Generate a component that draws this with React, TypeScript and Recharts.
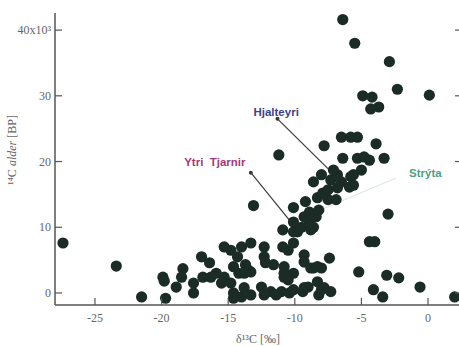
import { ScatterChart, Scatter, XAxis, YAxis, ReferenceLine, ReferenceDot } from 'recharts';

// δ13C (‰) and 14C age (x10³ BP) per sample
const delta13C = [
  -27.4, -23.4, -21.5, -19.7, -19.9, -19.8, -18.9, -18.4, -18.5, -17.6, -17.6, -17.0, -16.4, -16.9, -16.3,
  -15.9, -15.3, -15.3, -15.5, -14.8, -14.3, -14.0, -14.6, -14.2, -13.5, -14.8, -14.6, -14.0, -14.6, -13.3,
  -12.3, -10.9, -10.5, -10.1, -12.3, -12.2, -11.6, -10.8, -10.8, -10.1, -13.3, -13.7, -13.8, -10.8, -10.5,
  -13.8, -13.3, -12.5, -11.8, -11.0, -10.4, -10.1, -12.3, -11.4, -9.4, -9.0, -9.3, -8.3, -8.0, -7.8,
  -7.3, -8.2, -9.3, -9.3, -7.4, -8.6, -8.0, -8.3, -8.8, -13.1, -11.2, -10.9, -10.1, -9.8, -9.5,
  -8.8, -8.6, -10.1, -8.9, -9.3, -8.4, -8.9, -8.2, -10.1, -9.2, -8.3, -7.5, -6.9, -7.9, -7.5,
  -6.8, -5.9, -8.6, -7.3, -6.5, -5.8, -8.0, -6.8, -7.1, -5.6, -5.6, -5.0, -6.4, -5.3, -4.8,
  -4.4, -3.3, -7.8, -6.5, -5.8, -5.3, -3.9, -4.3, -3.7, -4.9, -4.2, -2.3, 0.1, -2.9, -5.5,
  -6.4, -3.0, -4.4, -4.0, -5.2, -3.1, -2.2, -0.6, -4.1, -3.4, 2.0,
];
const age14C = [
  7.6, 4.1, -0.6, -0.8, 2.4, 1.8, 0.9, 3.7, 2.4, 1.5, 0.0, 5.5, 4.6, 2.4, 2.4,
  3.0, 2.4, 7.0, 1.5, 6.5, 5.5, 7.0, 4.0, 3.0, 3.5, 1.5, 0.0, -0.6, -0.8, 7.6,
  7.0, 7.0, 6.5, 7.6, 5.5, 4.6, 4.3, 4.0, 3.0, 3.0, 3.2, 4.3, 3.0, 2.4, 2.0,
  0.8, -0.3, 0.9, 0.2, 0.2, 0.0, 0.5, -0.3, -0.3, 0.2, 0.9, 0.8, 1.7, 0.5, 0.8,
  0.2, -0.3, 5.8, 4.7, 5.3, 3.8, 3.8, 4.0, 3.8, 13.3, 21.0, 9.6, 9.3, 9.3, 10.0,
  9.6, 10.0, 10.8, 10.7, 11.6, 11.6, 12.3, 12.6, 13.0, 13.9, 14.5, 14.2, 14.2, 15.2, 15.7,
  16.0, 16.1, 16.9, 17.2, 16.9, 17.7, 18.0, 18.0, 18.7, 18.0, 16.4, 18.7, 20.5, 20.5, 20.7,
  20.2, 20.5, 22.4, 23.7, 23.7, 23.7, 22.7, 28.0, 28.3, 30.0, 29.8, 31.0, 30.1, 35.2, 38.0,
  41.6, 12.0, 7.8, 7.8, 3.2, 2.7, 2.3, 0.9, 0.5, -0.6, -0.6,
];

const xTicks = [-25, -20, -15, -10, -5, 0];
const yTicks = [0, 10, 20, 30, 40];
const yTickLabels = ['0', '10', '20', '30', '40x10³'];

// site labels: name, label anchor, arrow tip, arrow end
const siteNames = ['Hjalteyri', 'Ytri\u00a0\u00a0Tjarnir', 'Strýta'];
const siteLabelPos = [[-11.4, 27.6], [-16.0, 19.9], [-0.2, 18.3]];
const siteArrowTip = [[-11.3, 26.5], [-13.3, 18.3], [-2.4, 17.5]];
const siteArrowEnd = [[-6.9, 17.7], [-10.3, 10.8], [-9.5, 11.4]];
const siteColors = ['#3b3f8a', '#a13a78', '#4e9e86'];
const arrowColors = ['#3a3a3a', '#3a3a3a', '#dce8e4'];

const points = delta13C.map((x, i) => ({ x, y: age14C[i] }));

const AXIS = '#555';
const TICK_FONT = '"Liberation Serif", "DejaVu Serif", serif';

const LeftTick = ({ x, y, payload }: any) => (
  <g>
    <line x1={x} x2={x + 7} y1={y} y2={y} stroke={AXIS} strokeWidth={1.2} />
    <text x={x - 4} y={y + 4} textAnchor="end" fontSize={12} fill="#666" fontFamily={TICK_FONT}>
      {yTickLabels[yTicks.indexOf(payload.value)]}
    </text>
  </g>
);
const RightTick = ({ x, y }: any) => (
  <line x1={x - 7} x2={x} y1={y} y2={y} stroke={AXIS} strokeWidth={1.2} />
);
const BottomTick = ({ x, y, payload }: any) => (
  <g>
    <line x1={x} x2={x} y1={y} y2={y - 7} stroke={AXIS} strokeWidth={1.2} />
    <text x={x} y={y + 17} textAnchor="middle" fontSize={12} fill="#666" fontFamily={TICK_FONT}>
      {payload.value}
    </text>
  </g>
);
const TopTick = ({ x, y }: any) => (
  <line x1={x} x2={x} y1={y} y2={y + 7} stroke={AXIS} strokeWidth={1.2} />
);

const Dot = ({ cx, cy }: any) => <circle cx={cx} cy={cy} r={5.6} fill="#1b2b25" />;

const xDomain = [-28, 2.55];
const yDomain = [-1.83, 42.6];

export default function App() {
  return (
    <div style={{ position: 'absolute', left: 0, top: 0, width: 459, height: 346, overflow: 'hidden', background: '#fff' }}>
      <ScatterChart width={470} height={346} margin={{ top: 13, right: 0, bottom: 0, left: 0 }}>
        <XAxis
          type="number"
          dataKey="x"
          domain={xDomain}
          allowDataOverflow
          ticks={xTicks}
          height={41}
          tickSize={0}
          tickMargin={0}
          tickLine={false}
          tick={<BottomTick />}
          stroke={AXIS}
          strokeWidth={1.5}
          label={{
            content: () => (
              <text x={258} y={343} textAnchor="middle" fontSize={12} fill="#666" fontFamily={TICK_FONT}>
                δ¹³C [‰]
              </text>
            ),
          }}
        />
        <XAxis
          xAxisId="top"
          orientation="top"
          type="number"
          dataKey="x"
          domain={xDomain}
          allowDataOverflow
          ticks={xTicks}
          height={0}
          tickSize={0}
          tickMargin={0}
          tickLine={false}
          tick={<TopTick />}
          stroke={AXIS}
          strokeWidth={1.5}
        />
        <YAxis
          type="number"
          dataKey="y"
          domain={yDomain}
          allowDataOverflow
          ticks={yTicks}
          width={55}
          tickSize={0}
          tickMargin={0}
          tickLine={false}
          tick={<LeftTick />}
          stroke={AXIS}
          strokeWidth={1.5}
          label={{
            content: () => (
              <text
                x={16}
                y={150}
                transform="rotate(-90, 16, 150)"
                textAnchor="middle"
                fontSize={12}
                fill="#666"
                fontFamily={TICK_FONT}
              >
                ¹⁴C <tspan fontStyle="italic">alder</tspan> [BP]
              </text>
            ),
          }}
        />
        <YAxis
          yAxisId="r"
          orientation="right"
          type="number"
          dataKey="y"
          domain={yDomain}
          allowDataOverflow
          ticks={yTicks}
          width={8}
          tickSize={0}
          tickMargin={0}
          tickLine={false}
          tick={<RightTick />}
          stroke={AXIS}
          strokeWidth={1.5}
        />
        {siteNames.map((name, i) => (
          <ReferenceLine
            key={'l' + name}
            segment={[
              { x: siteArrowTip[i][0], y: siteArrowTip[i][1] },
              { x: siteArrowEnd[i][0], y: siteArrowEnd[i][1] },
            ]}
            stroke={arrowColors[i]}
            strokeWidth={1.2}
            ifOverflow="visible"
          />
        ))}
        <Scatter data={points} shape={<Dot />} isAnimationActive={false} />
        {siteNames.map((name, i) => (
          <ReferenceDot
            key={'t' + name}
            x={siteArrowTip[i][0]}
            y={siteArrowTip[i][1]}
            r={i === 2 ? 0 : 2}
            fill={arrowColors[i]}
            stroke="none"
            ifOverflow="visible"
          />
        ))}
        {siteNames.map((name, i) => (
          <ReferenceDot
            key={'n' + name}
            x={siteLabelPos[i][0]}
            y={siteLabelPos[i][1]}
            r={0}
            stroke="none"
            ifOverflow="visible"
            label={{
              value: name,
              position: 'center',
              fill: siteColors[i],
              fontSize: 11.5,
              fontWeight: 'bold',
              fontFamily: '"Liberation Sans", Arial, sans-serif',
            }}
          />
        ))}
      </ScatterChart>
    </div>
  );
}
